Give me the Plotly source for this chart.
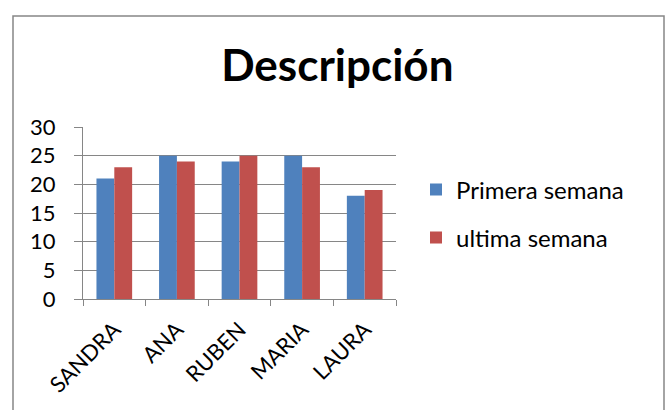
import plotly.graph_objects as go

# Weekly scores per person
nombres = ["SANDRA", "ANA", "RUBEN", "MARIA", "LAURA"]
primera_semana = [21, 25, 24, 25, 18]
ultima_semana = [23, 24, 25, 23, 19]
y_ticks = [0, 5, 10, 15, 20, 25, 30]

AZUL = "#4F81BD"
ROJO = "#C0504D"
GRIS = "#868686"
FUENTE = "Lato, Open Sans, sans-serif"

fig = go.Figure()
fig.add_trace(go.Bar(name="Primera semana", x=nombres, y=primera_semana,
                     marker=dict(color=AZUL, line=dict(width=0)), legend="legend"))
fig.add_trace(go.Bar(name="ultima semana", x=nombres, y=ultima_semana,
                     marker=dict(color=ROJO, line=dict(width=0)), legend="legend2"))

L, R, T, B = 83, 272, 127, 111
W, H = 668, 410
pw, ph = W - L - R, H - T - B

def px_x(x):
    return (x - L) / pw

def px_y(y):
    return (H - B - y) / ph

fig.update_layout(
    width=W, height=H,
    margin=dict(l=L, r=R, t=T, b=B, pad=0),
    paper_bgcolor="white", plot_bgcolor="white",
    font=dict(family=FUENTE, size=22, color="black"),
    barmode="group", bargap=0.43, bargroupgap=0,
    title=dict(text="<b>Descripción</b>", x=0.505, xanchor="center",
               y=1 - 66 / H, yanchor="middle",
               font=dict(family=FUENTE, size=44, color="black")),
    showlegend=True,
    legend=dict(x=px_x(416), y=px_y(190), xanchor="left", yanchor="middle",
                bgcolor="rgba(0,0,0,0)", font=dict(size=24)),
    legend2=dict(x=px_x(416), y=px_y(238), xanchor="left", yanchor="middle",
                 bgcolor="rgba(0,0,0,0)", font=dict(size=24)),
    xaxis=dict(showline=True, linecolor=GRIS, linewidth=1.3,
               ticks="outside", tickson="boundaries", ticklen=6,
               tickcolor=GRIS, tickwidth=1.3, tickangle=-45,
               ticklabelstandoff=8,
               tickfont=dict(size=22), showgrid=False),
    yaxis=dict(range=[0, 30], tickvals=y_ticks, showline=True,
               linecolor=GRIS, linewidth=1.3, ticks="outside", ticklen=8,
               tickcolor=GRIS, tickwidth=1.3, showgrid=True,
               gridcolor=GRIS, gridwidth=1.3, zeroline=False,
               ticklabelstandoff=14,
               tickfont=dict(size=22)),
)

# Chart frame
fig.add_shape(type="rect", xref="paper", yref="paper",
              x0=px_x(13), x1=px_x(664), y0=px_y(430), y1=px_y(16),
              line=dict(color=GRIS, width=1.5), fillcolor="rgba(0,0,0,0)",
              layer="below")

fig.write_html("out.html")
